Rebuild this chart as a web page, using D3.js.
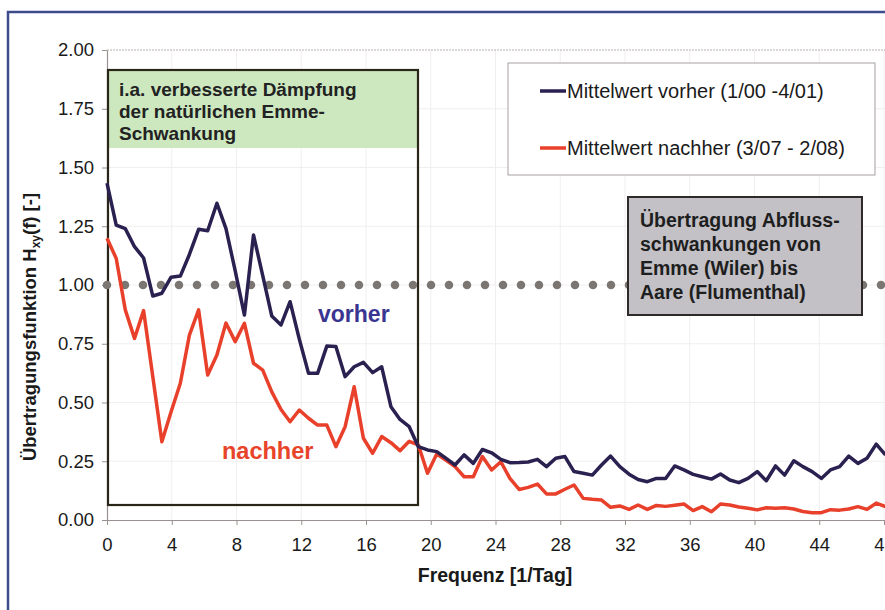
<!DOCTYPE html>
<html><head><meta charset="utf-8">
<script src="https://cdn.jsdelivr.net/npm/d3@7/dist/d3.min.js"></script>
<style>
html,body{margin:0;padding:0;background:#fff;}
svg{display:block;font-family:"Liberation Sans",Arial,sans-serif;}
</style></head>
<body>
<svg id="chart" width="885" height="610"></svg>
<script>
const freq = [0,0.57,1.13,1.70,2.26,2.83,3.39,3.96,4.53,5.09,5.66,6.22,6.79,7.35,7.92,8.49,9.05,9.62,10.18,10.75,
11.31,11.88,12.45,13.01,13.58,14.14,14.71,15.27,15.84,16.41,16.97,17.54,18.10,18.67,19.23,19.80,20.37,20.93,21.50,22.06,
22.63,23.19,23.76,24.33,24.89,25.46,26.02,26.59,27.15,27.72,28.29,28.85,29.42,29.98,30.55,31.11,31.68,32.25,32.81,33.38,
33.94,34.51,35.07,35.64,36.21,36.77,37.34,37.90,38.47,39.03,39.60,40.17,40.73,41.30,41.86,42.43,42.99,43.56,44.13,44.69,
45.26,45.82,46.39,46.95,47.52,48.09];
const vorher = [1.433,1.255,1.24,1.163,1.115,0.953,0.965,1.033,1.038,1.13,1.237,1.231,1.348,1.24,1.06,0.872,1.213,1.04,0.868,0.83,
0.929,0.77,0.624,0.624,0.74,0.738,0.61,0.652,0.671,0.627,0.652,0.482,0.428,0.397,0.312,0.298,0.291,0.263,0.234,0.277,
0.241,0.30,0.286,0.258,0.244,0.245,0.247,0.258,0.227,0.263,0.27,0.206,0.199,0.191,0.234,0.272,0.227,0.195,0.172,0.163,
0.177,0.177,0.23,0.213,0.194,0.184,0.174,0.196,0.170,0.159,0.177,0.206,0.167,0.23,0.191,0.252,0.227,0.206,0.177,0.213,
0.227,0.272,0.241,0.263,0.323,0.277];
const nachher = [1.199,1.113,0.894,0.773,0.891,0.61,0.333,0.461,0.582,0.787,0.894,0.617,0.702,0.838,0.759,0.837,0.667,0.638,0.545,0.47,
0.418,0.468,0.433,0.404,0.404,0.312,0.397,0.567,0.348,0.284,0.355,0.329,0.295,0.335,0.32,0.199,0.281,0.255,0.227,0.184,
0.184,0.27,0.213,0.248,0.177,0.13,0.139,0.153,0.111,0.111,0.131,0.149,0.092,0.088,0.085,0.054,0.06,0.045,0.064,0.045,
0.062,0.058,0.063,0.068,0.040,0.057,0.035,0.068,0.064,0.055,0.05,0.043,0.052,0.05,0.052,0.047,0.036,0.031,0.031,0.044,
0.042,0.047,0.057,0.045,0.072,0.057];
const xTicks = [0,4,8,12,16,20,24,28,32,36,40,44,48];
const yTicks = [0,0.25,0.5,0.75,1.0,1.25,1.5,1.75,2.0];
const referenceLevel = 1.0;
const seriesNames = ["Mittelwert vorher (1/00 -4/01)","Mittelwert nachher (3/07 - 2/08)"];
const boxGreenLines = ["i.a. verbesserte Dämpfung","der natürlichen Emme-","Schwankung"];
const boxGrayLines = ["Übertragung Abfluss-","schwankungen von","Emme (Wiler) bis","Aare (Flumenthal)"];

const svg = d3.select("#chart");
const x = d3.scaleLinear().domain([0,48]).range([107,884]);
const y = d3.scaleLinear().domain([0,2]).range([520,50]);
const cBlue = "#2b2150", cRed = "#e8402a";

// outer frame
svg.append("path").attr("d","M8,610 L8,12 L885,12").attr("fill","none").attr("stroke","#3d4c8c").attr("stroke-width",2.5);

// faint grid
svg.append("g").selectAll("line").data(xTicks.filter(d=>d>0)).join("line")
  .attr("x1",d=>x(d)).attr("x2",d=>x(d)).attr("y1",y(2)).attr("y2",y(0))
  .attr("stroke","#f1eeee").attr("stroke-width",1);
svg.append("g").selectAll("line").data(yTicks.filter(d=>d>0&&d<2)).join("line")
  .attr("x1",x(0)).attr("x2",885).attr("y1",d=>y(d)).attr("y2",d=>y(d))
  .attr("stroke","#f1eeee").attr("stroke-width",1);
svg.append("line").attr("x1",x(0)).attr("x2",885).attr("y1",y(2)).attr("y2",y(2))
  .attr("stroke","#b8b0b0").attr("stroke-width",1).attr("stroke-dasharray","2,1");

// axes
const yAxis = svg.append("g").attr("transform",`translate(${x(0)},0)`)
  .call(d3.axisLeft(y).tickValues(yTicks).tickFormat(d3.format(".2f")).tickSize(5).tickSizeOuter(0));
const xAxis = svg.append("g").attr("transform",`translate(0,${y(0)})`)
  .call(d3.axisBottom(x).tickValues(xTicks).tickFormat(d3.format("d")).tickSize(5).tickSizeOuter(0));
[yAxis,xAxis].forEach(g=>{
  g.select(".domain").attr("stroke","#9a9090").attr("stroke-width",1.2);
  g.selectAll(".tick line").attr("stroke","#9a9090");
  g.selectAll("text").attr("fill","#1a1a1a").style("font-size","18.5px").style("font-family","Liberation Sans, Arial, sans-serif");
});
yAxis.selectAll("text").attr("x",-13);
xAxis.selectAll("text").attr("y",18);

// axis titles
svg.append("text").attr("x",495).attr("y",582).attr("text-anchor","middle")
  .style("font-weight","bold").style("font-size","19.5px").attr("fill","#1a1a1a").text("Frequenz [1/Tag]");
const yt = svg.append("text").attr("transform","translate(36,0) rotate(-90)")
  .style("font-weight","bold").style("font-size","18.5px").attr("fill","#1a1a1a");
yt.append("tspan").text("Übertragungsfunktion H");
yt.append("tspan").attr("dy",4).style("font-size","12px").text("xy");
yt.append("tspan").attr("dy",-4).text("(f) [-]");
const ytLen = yt.node().getBBox().width;
yt.attr("x",-(327+ytLen/2));

// green annotation box
svg.append("rect").attr("x",109).attr("y",71).attr("width",308).attr("height",77).attr("fill","#cde8bf");
svg.append("rect").attr("x",108).attr("y",70).attr("width",310).attr("height",435)
  .attr("fill","none").attr("stroke","#2a261a").attr("stroke-width",2.2);
svg.append("g").selectAll("text").data(boxGreenLines).join("text")
  .attr("x",119).attr("y",(d,i)=>96+i*22).style("font-weight","bold").style("font-size","19px")
  .attr("fill","#222").text(d=>d);

// dotted reference line
svg.append("line").attr("x1",x(0)).attr("x2",885).attr("y1",y(referenceLevel)).attr("y2",y(referenceLevel))
  .attr("stroke","#7c7672").attr("stroke-width",8.5).attr("stroke-linecap","round").attr("stroke-dasharray","0,18");

// series lines
const line = d3.line().x((d,i)=>x(freq[i])).y(d=>y(d));
svg.append("path").datum(nachher).attr("d",line).attr("fill","none").attr("stroke",cRed).attr("stroke-width",3.5).attr("stroke-linejoin","round");
svg.append("path").datum(vorher).attr("d",line).attr("fill","none").attr("stroke",cBlue).attr("stroke-width",3.5).attr("stroke-linejoin","round");

// inline labels
svg.append("text").attr("x",318).attr("y",322).style("font-weight","bold").style("font-size","23px").attr("fill","#3b3592").text("vorher");
svg.append("text").attr("x",222).attr("y",459).style("font-weight","bold").style("font-size","23.5px").attr("fill","#e8442a").text("nachher");

// legend
svg.append("rect").attr("x",508).attr("y",63).attr("width",367).attr("height",112)
  .attr("fill","#fff").attr("stroke","#a8a0a0").attr("stroke-width",1);
const lg = svg.append("g").selectAll("g").data(seriesNames).join("g")
  .attr("transform",(d,i)=>`translate(540,${91+i*57})`);
lg.append("line").attr("x1",0).attr("x2",26).attr("stroke",(d,i)=>i?cRed:cBlue).attr("stroke-width",3.5);
lg.append("text").attr("x",27).attr("y",7).style("font-size","20px").attr("fill","#1a1a1a").text(d=>d);

// gray annotation box
svg.append("rect").attr("x",628).attr("y",197).attr("width",234).attr("height",118)
  .attr("fill","#c3c1c6").attr("stroke","#2e2a2a").attr("stroke-width",2);
svg.append("g").selectAll("text").data(boxGrayLines).join("text")
  .attr("x",640).attr("y",(d,i)=>227+i*24).style("font-weight","bold").style("font-size","19.5px")
  .attr("fill","#1e1e1e").text(d=>d);
</script>
</body></html>
